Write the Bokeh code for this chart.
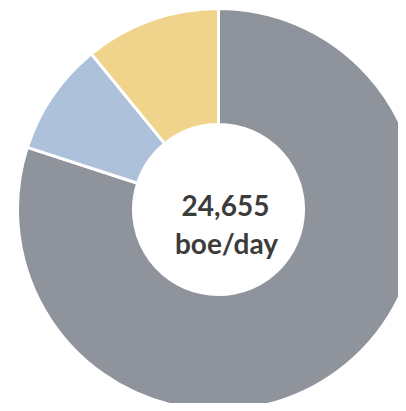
import math
from bokeh.plotting import figure
from bokeh.models import Range1d, ColumnDataSource
from bokeh.core.properties import value
from bokeh.embed import file_html
from bokeh.resources import INLINE

# data
categories = ["Gas", "Oil", "NGL"]
shares = [80.0, 9.1, 10.9]
colors = ["#8F949C", "#ADC2DA", "#F0D48C"]
center_lines = ["24,655", "boe/day"]

W, H = 398, 403
p = figure(width=W, height=H, output_backend="svg", toolbar_location=None,
           x_range=Range1d(0, W), y_range=Range1d(0, H), min_border=0)
p.axis.visible = False
p.grid.visible = False
p.outline_line_color = None
p.background_fill_color = "white"
p.border_fill_color = "white"

total = sum(shares)
starts, ends = [], []
cum = 0.0
for s in shares:
    starts.append(math.pi / 2 - cum / total * 2 * math.pi)
    cum += s
    ends.append(math.pi / 2 - cum / total * 2 * math.pi)

src = ColumnDataSource(dict(cat=categories, start=starts, end=ends, color=colors))
cx, cy = 218, H - 209
p.annular_wedge(x=cx, y=cy, inner_radius=85, outer_radius=201,
                start_angle="start", end_angle="end", direction="clock",
                fill_color="color", line_color="white", line_width=3, source=src)

p.text(x=[225, 226], y=[H - 205, H - 242], text=center_lines,
       text_font=value("Lato"), text_font_style="bold", text_font_size="28px",
       text_color="#3c3c3c", text_align="center", text_baseline="alphabetic")

open("out.html", "w").write(file_html(p, INLINE))
